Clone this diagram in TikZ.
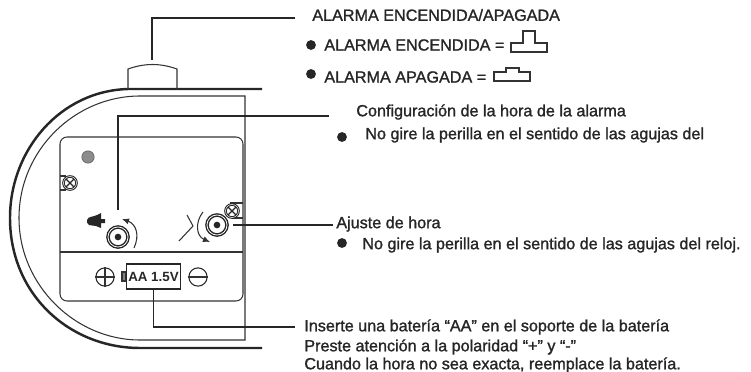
\documentclass[tikz,border=0pt]{standalone}
\usepackage{fontspec}
\setmainfont{Liberation Sans}
\newfontfamily\labelfont[FakeBold=1.3]{Liberation Sans}
\usepackage{tikz}
\usetikzlibrary{arrows.meta}
\tikzset{
    body/.style={line width=1.4pt, black!85},
    thin line/.style={line width=0.6pt, black!80},
    leader/.style={line width=1.1pt, black!85},
    label/.style={anchor=west, inner sep=0pt, font=\labelfont\fontsize{9.2}{11}\selectfont, text=black!85},
    bullet/.style={circle, fill=black!85, minimum size=5.6pt, inner sep=0pt},
    knob/.style={circle, draw=black!85, double=white, double distance=0.45pt, line width=0.8pt, fill=white, minimum size=11.4pt, inner sep=0pt},
    hub/.style={circle, fill=black!85, minimum size=3.8pt, inner sep=0pt},
    screw/.style={circle, draw=black!85, double=white, double distance=0.3pt, line width=0.6pt, fill=white, minimum size=7.4pt, inner sep=0pt,
        path picture={\draw [black!85, line width=0.7pt] (path picture bounding box.north west) -- (path picture bounding box.south east) (path picture bounding box.north east) -- (path picture bounding box.south west);}},
    sign/.style={circle, draw=black!85, line width=0.6pt, minimum size=10.4pt, inner sep=0pt}
}
\begin{document}
\begin{tikzpicture}[x=0.02cm, y=-0.02cm]
        \useasboundingbox (0, 0) rectangle (751, 372);
        % Case
        \draw [body] (262, 89) -- (128, 89) .. controls (60, 91) and (10, 150) .. (10, 218) .. controls (10, 295) and (70, 348) .. (140, 348) -- (262, 348);
        \draw [thin line] (140, 96) .. controls (75, 96) and (19, 150) .. (19, 218) .. controls (19, 285) and (75, 340) .. (140, 340) -- (245, 340) -- (245, 96) -- cycle;
        \draw [thin line] (128, 89) -- (128, 69) .. controls (145, 63) and (160, 63) .. (177, 69) -- (177, 89);
        % Panel
        \draw [thin line, rounded corners=4pt] (60, 137) rectangle (243, 301);
        \draw [thin line] (60, 252) -- (243, 252);
        \node [circle, fill=black!45, draw=black!60, minimum size=7pt, inner sep=0pt] (lamp) at (88, 157) {};
        \draw [thin line] (60, 176) -- (66, 176) (60, 190) -- (66, 190);
        \draw [thin line] (230, 203) -- (243, 203) (232, 218) -- (243, 218);
        \node [screw] (screwleft) at (70, 183) {};
        \node [screw] (screwright) at (232, 211) {};
        % Knobs
        \node [knob] (alarmknob) at (118, 237) {};
        \node [hub] at (118, 237) {};
        \node [knob] (timeknob) at (217, 225) {};
        \node [hub] at (217, 225) {};
        \draw [thin line, -{Latex[length=4pt, width=3.5pt]}] (134, 248) .. controls (140, 235) and (136, 224) .. (122, 219);
        \draw [thin line, -{Latex[length=4pt, width=3.5pt]}] (203, 212) .. controls (195, 222) and (196, 236) .. (210, 242);
        \draw [thin line] (187, 215) -- (193, 226) -- (179, 241);
        % Bell
        \fill [black!85] (87, 220) .. controls (88, 216) and (94, 217) .. (97, 215) -- (101, 213) -- (101, 219) -- (105, 219) -- (105, 223) -- (101, 223) -- (101, 228) -- (96, 226) .. controls (93, 225) and (89, 226) .. (88, 224) .. controls (87, 223) and (87, 222) .. (87, 220) -- cycle;
        % Battery
        \node [sign] (plus) at (105, 277) {};
        \draw [thin line] (plus.west) -- (plus.east) (plus.north) -- (plus.south);
        \node [sign] (minus) at (198, 277) {};
        \draw [thin line] (minus.west) -- (minus.east);
        \draw [thin line, fill=black!50] (122, 272) rectangle (126, 281);
        \node [draw=black!85, line width=0.8pt, minimum width=31pt, minimum height=14.2pt, inner sep=0pt, font=\bfseries\fontsize{7.6}{8}\selectfont, text=black!85] (battery) at (153.5, 276.5) {AA 1.5V};
        % Switch icons
        \draw [thin line] (511, 52) -- (511, 43) -- (523, 43) -- (523, 31) -- (535, 31) -- (535, 43) -- (547, 43) -- (547, 52) -- cycle;
        \draw [thin line] (494, 81) -- (494, 72) -- (506, 72) -- (506, 68) -- (519, 68) -- (519, 72) -- (530, 72) -- (530, 81) -- cycle;
        % Labels
        \node [label] (switch) at (312, 15) {ALARMA ENCENDIDA/APAGADA};
        \node [bullet] (bulleton) at (311, 45) {};
        \node [label] (on) at (324, 45) {ALARMA ENCENDIDA =};
        \node [bullet] (bulletoff) at (311, 74) {};
        \node [label] (off) at (324, 77) {ALARMA APAGADA =};
        \node [label] (alarmset) at (356, 112) {Configuración de la hora de la alarma};
        \node [bullet] (bulletalarm) at (342, 137) {};
        \node [label] (alarmnote) at (365, 135) {No gire la perilla en el sentido de las agujas del};
        \node [label] (timeset) at (336, 224) {Ajuste de hora};
        \node [bullet] (bullettime) at (342, 243) {};
        \node [label] (timenote) at (362, 245) {No gire la perilla en el sentido de las agujas del reloj.};
        \node [label] (insert) at (304, 327) {Inserte una batería “AA” en el soporte de la batería};
        \node [label] (polarity) at (304, 347) {Preste atención a la polaridad “+” y “-”};
        \node [label] (replace) at (304, 365) {Cuando la hora no sea exacta, reemplace la batería.};
        % Leaders
        \coordinate (switchtop) at (152, 60);
        \coordinate (switchend) at (295, 18);
        \coordinate (alarmtop) at (118, 210);
        \coordinate (alarmend) at (329, 116);
        \coordinate (timeend) at (333, 225);
        \coordinate (insertend) at (295, 327);
        \draw [leader] (switchtop) |- (switchend);
        \draw [leader] (alarmtop) |- (alarmend);
        \draw [leader, shorten <=3pt] (timeknob.east |- timeend) -- (timeend);
        \draw [leader] (battery.south) |- (insertend);
    \end{tikzpicture}
\end{document}
